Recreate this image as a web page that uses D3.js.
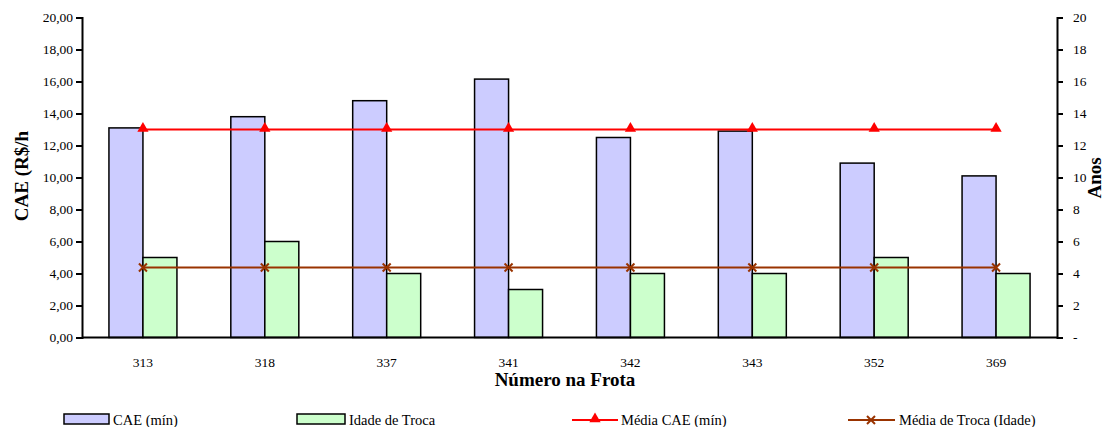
<!DOCTYPE html>
<html>
<head>
<meta charset="utf-8">
<script src="https://cdn.jsdelivr.net/npm/d3@7"></script>
<style>
  body { margin: 0; background: #fff; }
</style>
</head>
<body>
<div id="chart"></div>
<script>
var categories = ['313', '318', '337', '341', '342', '343', '352', '369'];
var caeMin = [13.1, 13.8, 14.8, 16.15, 12.5, 12.9, 10.9, 10.1];
var idadeTroca = [5, 6, 4, 3, 4, 4, 5, 4];
var mediaCae = [13.0, 13.0, 13.0, 13.0, 13.0, 13.0, 13.0, 13.0];
var mediaTroca = [4.375, 4.375, 4.375, 4.375, 4.375, 4.375, 4.375, 4.375];
var leftTicks = [0, 2, 4, 6, 8, 10, 12, 14, 16, 18, 20];
var rightTicks = [0, 2, 4, 6, 8, 10, 12, 14, 16, 18, 20];

var chartWidth = 1104;
var chartHeight = 427;
var plotLeft = 82, plotRight = 1057, plotTop = 17.5, plotBottom = 337.5;
var serif = '"Liberation Serif", "Times New Roman", serif';

var svg = d3.select('#chart')
    .append('svg')
    .attr('width', chartWidth)
    .attr('height', chartHeight)
    .attr('font-family', serif);

// Scales
var scaleX = d3.scaleBand()
    .domain(categories)
    .range([plotLeft, plotRight]);

var scaleY = d3.scaleLinear()
    .domain([0, 20])
    .range([plotBottom, plotTop]);

var scaleY2 = d3.scaleLinear()
    .domain([0, 20])
    .range([plotBottom, plotTop]);

var barW = 34;
var center = function(i) {
  return scaleX(categories[i]) + scaleX.bandwidth() / 2;
};

// Bars CAE
svg.selectAll('rect.cae')
    .data(caeMin)
    .enter()
    .append('rect')
    .attr('class', 'cae')
    .attr('x', function(d, i) { return center(i) - barW; })
    .attr('y', function(d) { return scaleY(d); })
    .attr('width', barW)
    .attr('height', function(d) { return plotBottom - scaleY(d); })
    .attr('fill', '#ccccff')
    .attr('stroke', '#000')
    .attr('stroke-width', 1.5);

// Bars Idade
svg.selectAll('rect.idade')
    .data(idadeTroca)
    .enter()
    .append('rect')
    .attr('class', 'idade')
    .attr('x', function(d, i) { return center(i); })
    .attr('y', function(d) { return scaleY2(d); })
    .attr('width', barW)
    .attr('height', function(d) { return plotBottom - scaleY2(d); })
    .attr('fill', '#ccffcc')
    .attr('stroke', '#000')
    .attr('stroke-width', 1.5);

// Lines
var lineCae = d3.line()
    .x(function(d, i) { return center(i); })
    .y(function(d) { return scaleY(d); });

var lineTroca = d3.line()
    .x(function(d, i) { return center(i); })
    .y(function(d) { return scaleY2(d); });

svg.append('path')
    .attr('d', lineCae(mediaCae))
    .attr('fill', 'none')
    .attr('stroke', '#ff0000')
    .attr('stroke-width', 2);

svg.append('path')
    .attr('d', lineTroca(mediaTroca))
    .attr('fill', 'none')
    .attr('stroke', '#993300')
    .attr('stroke-width', 2);

var tri = d3.symbol().type(d3.symbolTriangle).size(55);

svg.selectAll('path.tri')
    .data(mediaCae)
    .enter()
    .append('path')
    .attr('class', 'tri')
    .attr('d', tri)
    .attr('transform', function(d, i) {
      return 'translate(' + center(i) + ',' + (scaleY(d) - 1) + ')';
    })
    .attr('fill', '#ff0000');

function cross(g, x, y) {
  g.append('path')
      .attr('d', 'M' + (x - 4) + ',' + (y - 4) + 'L' + (x + 4) + ',' + (y + 4) +
                 'M' + (x - 4) + ',' + (y + 4) + 'L' + (x + 4) + ',' + (y - 4))
      .attr('stroke', '#993300')
      .attr('stroke-width', 2);
}

mediaTroca.forEach(function(d, i) {
  cross(svg, center(i), scaleY2(d));
});

// Axes
var axisLeft = d3.axisLeft(scaleY)
    .tickValues(leftTicks)
    .tickSize(6)
    .tickFormat(function(d) { return d3.format('.2f')(d).replace('.', ','); });

var axisRight = d3.axisRight(scaleY2)
    .tickValues(rightTicks)
    .tickSize(6)
    .tickFormat(function(d) { return d === 0 ? '-' : d; });

var axisBottom = d3.axisBottom(scaleX).tickSize(0);

var gl = svg.append('g')
    .attr('transform', 'translate(' + plotLeft + ',0)')
    .call(axisLeft);
var gr = svg.append('g')
    .attr('transform', 'translate(' + plotRight + ',0)')
    .call(axisRight);
var gb = svg.append('g')
    .attr('transform', 'translate(0,' + plotBottom + ')')
    .call(axisBottom);

[gl, gr, gb].forEach(function(g) {
  g.attr('font-family', serif).attr('font-size', 13.5);
  g.selectAll('path.domain').attr('stroke', '#000').attr('stroke-width', 2);
  g.selectAll('line').attr('stroke', '#000').attr('stroke-width', 2);
  g.selectAll('text').attr('fill', '#000');
});
gl.selectAll('text').attr('x', -9);
gr.selectAll('text').attr('x', 16);
gb.selectAll('text').attr('y', 20);
gb.select('path.domain').attr('d', 'M' + plotLeft + ',0H' + plotRight);

// Axis titles
svg.append('text')
    .attr('transform', 'translate(28,' + 176 + ') rotate(-90)')
    .attr('text-anchor', 'middle')
    .attr('font-size', 19)
    .attr('font-weight', 'bold')
    .text('CAE (R$/h');

svg.append('text')
    .attr('transform', 'translate(1101,' + 178 + ') rotate(-90)')
    .attr('text-anchor', 'middle')
    .attr('font-size', 19)
    .attr('font-weight', 'bold')
    .text('Anos');

svg.append('text')
    .attr('x', 565)
    .attr('y', 386)
    .attr('text-anchor', 'middle')
    .attr('font-size', 19)
    .attr('font-weight', 'bold')
    .text('Número na Frota');

// Legend
var legend = svg.append('g').attr('font-size', 14.5);

legend.append('rect')
    .attr('x', 64).attr('y', 414).attr('width', 45).attr('height', 10)
    .attr('fill', '#ccccff').attr('stroke', '#000').attr('stroke-width', 1.5);
legend.append('text').attr('x', 113).attr('y', 425).text('CAE (mín)');

legend.append('rect')
    .attr('x', 297).attr('y', 414).attr('width', 48).attr('height', 10)
    .attr('fill', '#ccffcc').attr('stroke', '#000').attr('stroke-width', 1.5);
legend.append('text').attr('x', 349).attr('y', 425).text('Idade de Troca');

legend.append('line')
    .attr('x1', 572).attr('x2', 618).attr('y1', 420).attr('y2', 420)
    .attr('stroke', '#ff0000').attr('stroke-width', 2);
legend.append('path')
    .attr('d', tri)
    .attr('transform', 'translate(595,419)')
    .attr('fill', '#ff0000');
legend.append('text').attr('x', 621).attr('y', 425).text('Média CAE (mín)');

legend.append('line')
    .attr('x1', 848).attr('x2', 895).attr('y1', 420).attr('y2', 420)
    .attr('stroke', '#993300').attr('stroke-width', 2);
cross(legend, 871, 420);
legend.append('text').attr('x', 899).attr('y', 425).text('Média de Troca (Idade)');
</script>
</body>
</html>
